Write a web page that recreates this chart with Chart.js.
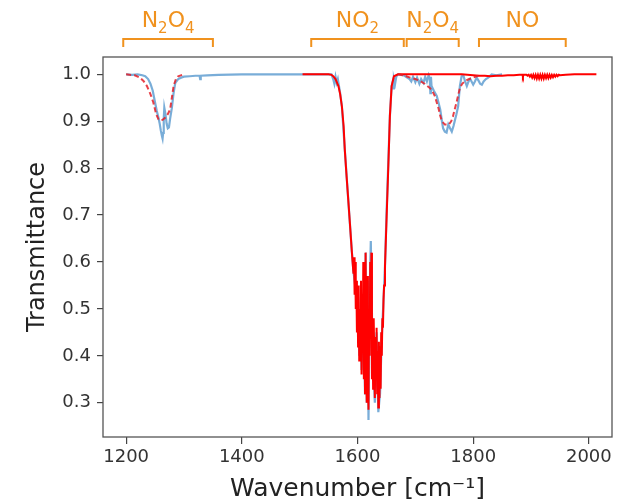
<!DOCTYPE html>
<html>
<head>
<meta charset="utf-8">
<script src="https://cdn.jsdelivr.net/npm/chart.js@4.4.1/dist/chart.umd.min.js"></script>
<style>
  body { margin: 0; background: #fff; }
</style>
</head>
<body>
<canvas id="myChart" width="630" height="503"></canvas>
<script>
// measured spectrum (blue)
const wnMeas = [1200, 1210, 1220, 1228, 1233, 1238, 1242, 1246, 1250, 1253, 1256, 1258, 1260, 1262, 1263, 1264, 1265, 1266, 1268, 1270, 1272, 1274, 1276, 1279, 1282, 1285, 1290, 1295, 1300, 1310, 1320, 1327, 1328, 1329, 1340, 1360, 1400, 1450, 1500, 1540, 1555, 1558, 1560, 1562, 1564, 1566, 1568,
  1570, 1573, 1578, 1584, 1590, 1593, 1596, 1599, 1601, 1603, 1605, 1607, 1610, 1613, 1614, 1616, 1617.5, 1619, 1621.5, 1623, 1625.5, 1627, 1630, 1633, 1636, 1639, 1642, 1645, 1647.5, 1650, 1653, 1656, 1659, 1661, 1662, 1663, 1665, 1667, 1670,
  1680, 1690, 1693, 1696, 1700, 1703, 1707, 1710, 1714, 1717, 1720, 1723, 1725, 1726, 1727, 1728, 1732, 1737, 1740, 1743, 1746, 1748, 1751, 1754, 1757, 1760, 1763, 1766, 1768, 1771, 1774, 1777, 1780, 1783, 1786, 1789, 1792, 1795, 1800, 1803, 1806, 1810, 1812, 1815, 1818, 1822, 1826, 1832, 1840, 1850];
const tMeas = [1.0, 0.999, 1.0, 0.998, 0.996, 0.99, 0.98, 0.965, 0.94, 0.922, 0.907, 0.895, 0.88, 0.868, 0.863, 0.875, 0.905, 0.929, 0.915, 0.895, 0.885, 0.887, 0.905, 0.928, 0.96, 0.982, 0.99, 0.993, 0.995, 0.996, 0.997, 0.997, 0.99, 0.997, 0.998, 0.999, 1.0, 1.0, 1.0, 1.0, 1.0, 0.99, 0.98, 0.995, 0.982, 0.99, 0.975,
  0.96, 0.932, 0.84, 0.733, 0.626, 0.58, 0.55, 0.51, 0.525, 0.40, 0.47, 0.37, 0.52, 0.32, 0.62, 0.30, 0.56, 0.263, 0.56, 0.645, 0.45, 0.38, 0.30, 0.45, 0.28, 0.32, 0.44, 0.52, 0.59, 0.697, 0.804, 0.911, 0.975, 0.985, 0.97, 0.99, 0.98, 0.995, 1.0,
  0.998, 0.99, 0.985, 0.995, 0.983, 0.993, 0.98, 0.99, 0.982, 0.995, 0.985, 0.998, 0.99, 0.96, 0.995, 0.975, 0.965, 0.954, 0.94, 0.925, 0.9, 0.885, 0.878, 0.876, 0.893, 0.885, 0.878, 0.89, 0.9, 0.915, 0.932, 0.975, 0.996, 0.998, 0.985, 0.975, 0.985, 0.99, 0.978, 0.985, 0.993, 0.985, 0.98, 0.978, 0.985, 0.99, 0.993, 1.0, 0.998, 1.0];

// calculated NO2 + NO spectrum (red)
const wnCalc = [1505, 1550, 1555, 1558, 1562, 1567, 1570, 1573, 1576, 1578, 1581, 1584, 1587, 1590,
  1593, 1594, 1595, 1596, 1597, 1598, 1599, 1600, 1601, 1602, 1603, 1604, 1605, 1606, 1607, 1608, 1609, 1610, 1611, 1612, 1613, 1614, 1615, 1616, 1617, 1618, 1619, 1620,
  1621, 1622, 1623, 1624, 1625, 1626, 1627, 1628, 1629, 1630, 1631, 1632, 1633, 1634, 1635, 1636, 1637, 1638, 1639, 1640, 1641, 1642, 1643, 1644, 1645, 1646, 1647.5,
  1650.4, 1653.3, 1656, 1659, 1663, 1670,
  1780, 1800, 1810, 1820, 1830, 1840, 1850, 1860, 1870, 1880, 1885, 1886, 1887, 1892,
  1894, 1896, 1898, 1900, 1902, 1904, 1906, 1908, 1910, 1912, 1914, 1916, 1918, 1920, 1922, 1924, 1926, 1928, 1930, 1932, 1934, 1936, 1938, 1940, 1942, 1944, 1946, 1948, 1950,
  1960, 1975, 2013];
const tCalc = [1.0, 1.0, 0.999, 0.996, 0.99, 0.975, 0.958, 0.932, 0.89, 0.84, 0.785, 0.733, 0.68, 0.626,
  0.575, 0.61, 0.53, 0.6, 0.50, 0.56, 0.45, 0.53, 0.42, 0.55, 0.39, 0.50, 0.44, 0.56, 0.36, 0.52, 0.41, 0.60, 0.35, 0.50, 0.32, 0.62, 0.38, 0.30, 0.57, 0.36, 0.285, 0.50,
  0.40, 0.60, 0.47, 0.62, 0.35, 0.45, 0.33, 0.48, 0.40, 0.31, 0.44, 0.36, 0.46, 0.32, 0.41, 0.29, 0.43, 0.31, 0.42, 0.33, 0.45, 0.40, 0.48, 0.46, 0.52, 0.55, 0.59,
  0.697, 0.804, 0.911, 0.975, 0.996, 1.0,
  1.0, 0.998, 0.997, 0.997, 0.996, 0.997, 0.997, 0.998, 0.998, 0.999, 0.999, 0.995, 0.999, 0.999,
  0.997, 0.999, 0.995, 0.999, 0.993, 0.999, 0.992, 0.999, 0.991, 0.999, 0.991, 0.999, 0.991, 0.999, 0.991, 0.999, 0.992, 0.999, 0.992, 0.999, 0.993, 0.999, 0.994, 0.999, 0.995, 0.999, 0.996, 0.999, 0.998,
  0.999, 1.0, 1.0];

// N2O4 fits (red dashed)
const wnFitLow = [1200, 1215, 1224, 1230, 1236, 1242, 1247, 1252, 1256, 1259, 1263, 1267, 1272, 1276, 1279, 1282, 1286, 1290, 1299];
const tFitLow = [1.0, 0.998, 0.993, 0.986, 0.975, 0.958, 0.94, 0.915, 0.904, 0.902, 0.903, 0.907, 0.915, 0.925, 0.95, 0.975, 0.99, 0.996, 1.0];
const wnFitHigh = [1670, 1680, 1691, 1700, 1708, 1716, 1725, 1730, 1734, 1737, 1740, 1743, 1746, 1751, 1758, 1762, 1765, 1768, 1771, 1774, 1777, 1781, 1786, 1793, 1800, 1806, 1812];
const tFitHigh = [1.0, 0.998, 0.993, 0.99, 0.986, 0.98, 0.971, 0.963, 0.953, 0.94, 0.928, 0.912, 0.9, 0.893, 0.893, 0.9, 0.91, 0.925, 0.939, 0.955, 0.971, 0.98, 0.986, 0.99, 0.993, 0.996, 0.998];

const xTicks = [1200, 1400, 1600, 1800, 2000];
const yTicks = [0.3, 0.4, 0.5, 0.6, 0.7, 0.8, 0.9, 1.0];

// band brackets above the plot
const bandLabels = ["N2O4", "NO2", "N2O4", "NO"];
const bandStart = [1195, 1520, 1685, 1810];
const bandEnd = [1350, 1680, 1775, 1960];

const FONT = "'DejaVu Sans', Verdana, sans-serif";
const ORANGE = "#f0921e";

function pts(xs, ys) {
  return xs.map((x, i) => ({ x: x, y: ys[i] }));
}

// draws the axes frame and the orange brackets with labels
const extras = {
  id: "extras",
  afterDatasetsDraw(chart) {
    const c = chart.ctx;
    const a = chart.chartArea;
    const xs = chart.scales.x;
    c.save();
    c.strokeStyle = "#555";
    c.lineWidth = 1.3;
    c.strokeRect(a.left, a.top, a.right - a.left, a.bottom - a.top);

    c.strokeStyle = ORANGE;
    c.fillStyle = ORANGE;
    c.lineWidth = 2;
    bandLabels.forEach((lab, i) => {
      const x0 = xs.getPixelForValue(bandStart[i]);
      const x1 = xs.getPixelForValue(bandEnd[i]);
      const yTop = a.top - 18;
      c.beginPath();
      c.moveTo(x0, a.top - 10);
      c.lineTo(x0, yTop);
      c.lineTo(x1, yTop);
      c.lineTo(x1, a.top - 10);
      c.stroke();

      // label with subscript digits
      const big = "22px " + FONT;
      const small = "15px " + FONT;
      let w = 0;
      for (const ch of lab) {
        c.font = /\d/.test(ch) ? small : big;
        w += c.measureText(ch).width;
      }
      let x = (x0 + x1) / 2 - w / 2;
      const base = a.top - 30;
      c.textAlign = "left";
      c.textBaseline = "alphabetic";
      for (const ch of lab) {
        const sub = /\d/.test(ch);
        c.font = sub ? small : big;
        c.fillText(ch, x, sub ? base + 6 : base);
        x += c.measureText(ch).width;
      }
    });
    c.restore();
  },
};

const ctx = document.getElementById("myChart").getContext("2d");
const myChart = new Chart(ctx, {
  type: "line",
  data: {
    datasets: [
      {
        label: "Fit N2O4 (1)",
        data: pts(wnFitLow, tFitLow),
        borderColor: "rgba(228, 30, 40, 0.85)",
        borderWidth: 2,
        borderDash: [5, 3],
      },
      {
        label: "Fit N2O4 (2)",
        data: pts(wnFitHigh, tFitHigh),
        borderColor: "rgba(228, 30, 40, 0.85)",
        borderWidth: 2,
        borderDash: [5, 3],
      },
      {
        label: "Calculated",
        data: pts(wnCalc, tCalc),
        borderColor: "#ff0000",
        borderWidth: 2,
      },
      {
        label: "Measured",
        data: pts(wnMeas, tMeas),
        borderColor: "rgba(31, 119, 190, 0.6)",
        borderWidth: 2.2,
      },
    ],
  },
  options: {
    responsive: false,
    animation: false,
    events: [],
    layout: { padding: { top: 57, right: 18, left: 0, bottom: 0 } },
    elements: {
      point: { radius: 0 },
      line: { tension: 0, fill: false },
    },
    plugins: {
      legend: { display: false },
      tooltip: { enabled: false },
    },
    scales: {
      x: {
        type: "linear",
        min: 1160,
        max: 2040,
        afterBuildTicks: (s) => { s.ticks = xTicks.map((v) => ({ value: v })); },
        afterFit: (s) => { s.height = 66; },
        grid: { drawOnChartArea: false, tickLength: 7, color: "#444", lineWidth: 1.2 },
        border: { display: false },
        ticks: {
          autoSkip: false,
          maxRotation: 0,
          padding: 3,
          color: "#333",
          font: { family: FONT, size: 18 },
          callback: (v) => String(v),
        },
        title: {
          display: true,
          text: "Wavenumber [cm\u207B\u00B9]",
          color: "#222",
          font: { family: FONT, size: 25, lineHeight: 1 },
          padding: { top: 0, bottom: 1 },
        },
      },
      y: {
        min: 0.227,
        max: 1.037,
        afterBuildTicks: (s) => { s.ticks = yTicks.map((v) => ({ value: v })); },
        afterFit: (s) => { s.width = 103; },
        grid: { drawOnChartArea: false, tickLength: 6, color: "#444", lineWidth: 1.2 },
        border: { display: false },
        ticks: {
          padding: 6,
          color: "#333",
          font: { family: FONT, size: 18 },
          callback: (v) => v.toFixed(1),
        },
        title: {
          display: true,
          text: "Transmittance",
          color: "#222",
          font: { family: FONT, size: 24, lineHeight: 1 },
          padding: { top: 26, bottom: 0 },
        },
      },
    },
  },
  plugins: [extras],
});
</script>
</body>
</html>
